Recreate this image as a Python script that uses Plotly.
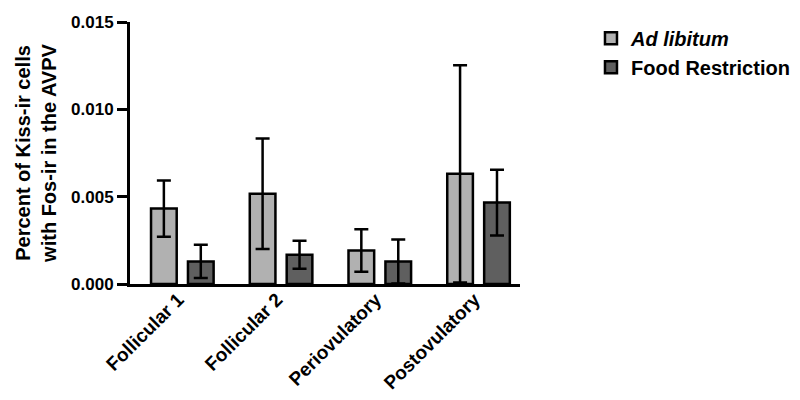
import plotly.graph_objects as go

categories = ["Follicular 1", "Follicular 2", "Periovulatory", "Postovulatory"]
ad_libitum = [0.00432, 0.00517, 0.00192, 0.00631]
ad_libitum_err = [0.00161, 0.00316, 0.00122, 0.00622]
food_restriction = [0.00129, 0.00167, 0.00129, 0.00466]
food_restriction_err = [0.00095, 0.00080, 0.00126, 0.00188]
y_ticks = [0.0, 0.005, 0.010, 0.015]
y_tick_labels = ["0.000", "0.005", "0.010", "0.015"]

font_family = "Liberation Sans, Arial, sans-serif"

fig = go.Figure()
fig.add_trace(go.Bar(
    x=categories, y=ad_libitum, name="<b><i>Ad libitum</i></b>",
    marker=dict(color="#b1b1b1", line=dict(color="black", width=2.5)),
    error_y=dict(type="data", array=ad_libitum_err, visible=True, color="black", thickness=2.5, width=7),
))
fig.add_trace(go.Bar(
    x=categories, y=food_restriction, name="<b>Food Restriction</b>",
    marker=dict(color="#5f5f5f", line=dict(color="black", width=2.5)),
    error_y=dict(type="data", array=food_restriction_err, visible=True, color="black", thickness=2.5, width=7),
))

fig.update_layout(
    width=800, height=400,
    margin=dict(l=130, r=280, t=22, b=116, autoexpand=False),
    paper_bgcolor="white", plot_bgcolor="white",
    barmode="group", bargap=0.252, bargroupgap=0.305,
    font=dict(family=font_family, color="black", size=17),
    showlegend=True,
    legend=dict(x=1.182, y=1.012, xanchor="left", yanchor="top",
                font=dict(size=20, family=font_family, color="black"),
                tracegroupgap=0, itemwidth=30),
    xaxis=dict(
        range=[-0.53, 3.42], showline=True, linecolor="black", linewidth=3,
        ticks="", tickangle=-45, tickfont=dict(size=19, family=font_family, color="black"),
        tickprefix="<b>", ticksuffix="</b>", showgrid=False, zeroline=False, automargin=False,
        ticklabelstandoff=-6, ticklabelshift=-4,
    ),
    yaxis=dict(
        range=[0, 0.015], tickvals=y_ticks, ticktext=["<b>%s</b>" % t for t in y_tick_labels],
        showline=True, linecolor="black", linewidth=3,
        ticks="outside", ticklen=10, tickwidth=3, tickcolor="black",
        tickfont=dict(size=17, family=font_family, color="black"),
        showgrid=False, zeroline=False, automargin=False,
        title=dict(text="<b>Percent of Kiss-ir cells<br>with Fos-ir in the AVPV</b>",
                   font=dict(size=20, family=font_family, color="black"), standoff=10),
    ),
)

fig.write_html("out.html", config={"displayModeBar": False},
               post_script="document.body.style.margin='0px';")
